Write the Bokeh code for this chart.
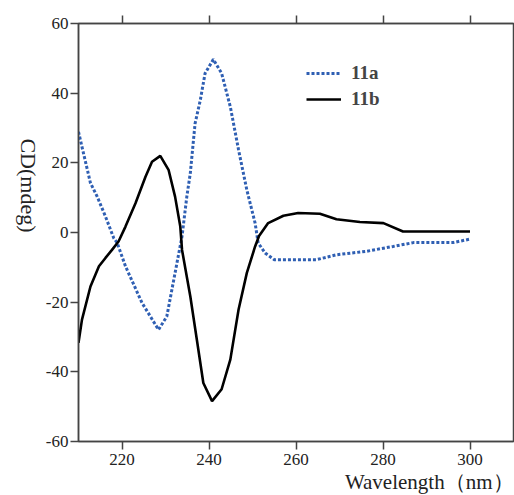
import math
from bokeh.plotting import figure
from bokeh.models import (LinearAxis, FixedTicker, Legend, LegendItem, Range1d,
                          Title, PrintfTickFormatter)
from bokeh.embed import file_html
from bokeh.resources import INLINE

# 11a (blue dotted)
wl_a = [210, 210.8, 212.75, 214.3, 216.2, 218.1, 218.9, 220.8, 224.6, 228.4, 230.3, 232.2,
        233.8, 234.9, 235.7, 236.8, 238, 239.1, 241, 242.9, 244.9, 246.8, 248.7, 250.6,
        251.3, 252.9, 255, 264.7, 269.3, 276.2, 282.3, 287, 296.1, 300]
cd_a = [28.9, 24.6, 14.2, 10.3, 4.6, -1.6, -3, -9.7, -20.2, -27.9, -24.1, -11.6,
        -1.1, 10.3, 17, 31.3, 38, 45.7, 49.7, 45.7, 36.1, 23.7, 12.2, 2.7,
        -3, -5.9, -7.8, -7.8, -6.4, -5.4, -4, -2.9, -2.9, -1.9]

# 11b (black solid)
wl_b = [210, 210.8, 212.75, 214.7, 216.2, 217.7, 219.2, 220.8, 223.1, 225.4, 226.9, 228.8,
        230.7, 232.2, 233.4, 233.8, 235.7, 237.2, 238.7, 240.7, 242.9, 244.9, 246.8, 248.7,
        250.6, 251.5, 253.6, 257.1, 260.5, 265.5, 269.3, 274.7, 280.1, 284.6, 293, 300]
cd_b = [-31.7, -25, -15.5, -9.7, -7.3, -5, -2.6, 1.7, 8.4, 16, 20.3, 22,
        18, 10.3, 1.7, -5, -18.3, -30.7, -43.2, -48.4, -45, -36.5, -22.1, -11.6,
        -4, -1, 2.7, 4.8, 5.6, 5.4, 3.8, 3, 2.7, 0.3, 0.3, 0.3]

x_ticks = [220, 240, 260, 280, 300]
y_ticks = [-60, -40, -20, 0, 20, 40, 60]

p = figure(width=514, height=495, output_backend="svg", toolbar_location=None,
           x_range=Range1d(210, 310), y_range=Range1d(-60, 60),
           min_border_left=78, min_border_right=1, min_border_top=23, min_border_bottom=54)
p.xaxis.visible = False
p.yaxis.visible = False
p.grid.visible = False
p.outline_line_color = "#444444"
p.outline_line_width = 1.5
p.background_fill_color = "white"
p.border_fill_color = "white"

FONT = "Liberation Serif"
AX = "#444444"

def style(ax, labels=True, standoff=6):
    ax.axis_line_color = AX
    ax.axis_line_width = 1.5
    ax.major_tick_line_color = AX
    ax.major_tick_line_width = 1.5
    ax.major_tick_out = 8
    ax.major_tick_in = 0
    ax.minor_tick_line_color = None
    ax.major_label_text_font = FONT
    ax.major_label_text_font_size = "17px"
    ax.major_label_text_color = "#222222"
    ax.major_label_standoff = standoff
    ax.formatter = PrintfTickFormatter(format="%d")
    if not labels:
        ax.major_label_text_alpha = 0
        ax.major_label_text_font_size = "1px"
        ax.major_label_standoff = 0

xb = LinearAxis(ticker=FixedTicker(ticks=x_ticks))
style(xb, standoff=4)
p.add_layout(xb, "below")
xt = LinearAxis(ticker=FixedTicker(ticks=x_ticks))
style(xt, labels=False)
p.add_layout(xt, "above")
yl = LinearAxis(ticker=FixedTicker(ticks=y_ticks))
style(yl, standoff=2)
yl.axis_label = "CD(mdeg)"
yl.axis_label_orientation = -math.pi / 2   # reads top-to-bottom
yl.axis_label_standoff = 14
yl.axis_label_text_font = FONT
yl.axis_label_text_font_size = "22px"
yl.axis_label_text_font_style = "normal"
yl.axis_label_text_color = "#222222"
p.add_layout(yl, "left")

ra = p.line(wl_a, cd_a, line_color="#2f5fb3", line_width=3, line_dash="3 2")
rb = p.line(wl_b, cd_b, line_color="black", line_width=2.6)

leg = Legend(items=[LegendItem(label="11a", renderers=[ra]),
                    LegendItem(label="11b", renderers=[rb])],
             location=(228, 331), orientation="vertical",
             border_line_color=None, background_fill_alpha=0,
             label_text_font=FONT, label_text_font_style="bold",
             label_text_font_size="19px", glyph_width=35, glyph_height=20,
             label_height=20, spacing=4, padding=0, margin=0, label_standoff=10)
p.add_layout(leg, "center")

p.add_layout(Title(text="Wavelength（nm）", align="right", offset=0, standoff=0,
                   text_font=FONT, text_font_size="21px", text_font_style="normal",
                   text_color="#222222"), "below")

open("out.html", "w").write(file_html(p, INLINE))
